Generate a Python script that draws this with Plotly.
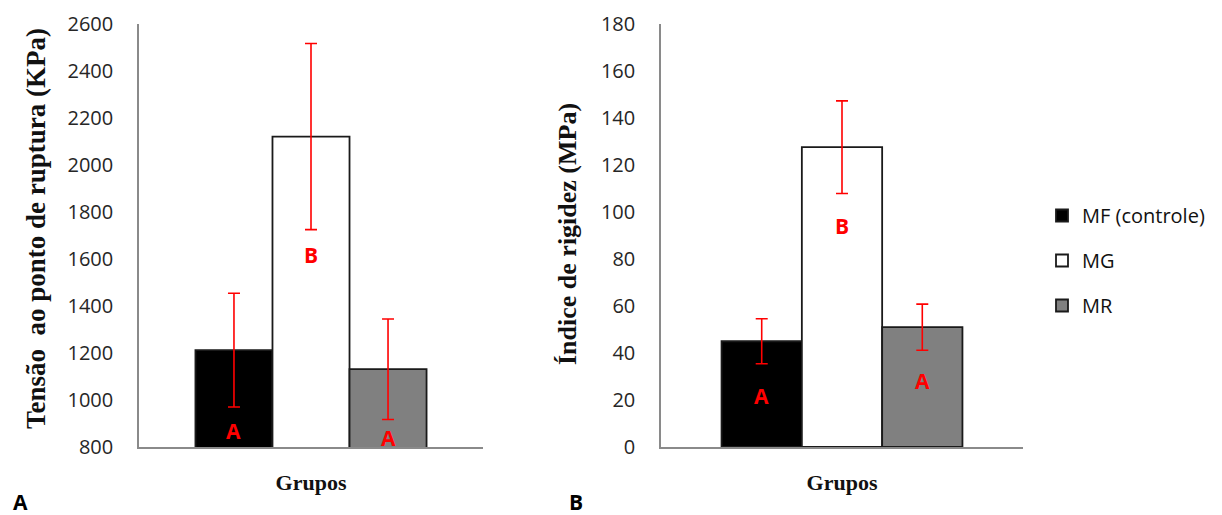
import plotly.graph_objects as go

# Data
groups = ["MF (controle)", "MG", "MR"]
category = ["Grupos"]
tensao = [1212, 2121, 1131]          # KPa
tensao_err = [242, 396, 214]
rigidez = [45.0, 127.6, 51.0]        # MPa
rigidez_err = [9.6, 19.7, 9.8]
letters_tensao = ["A", "B", "A"]
letters_rigidez = ["A", "B", "A"]

# Styling
fills = ["#000000", "#FFFFFF", "#808080"]
W, H = 1222, 515
TOP, BOTTOM = 24, 447
BARGAP = 0.30
TICK_FONT = dict(family="Open Sans", size=20, color="#262626")
SERIF_BOLD = "Liberation Serif"

# Vertical spots (data units) where the significance letters sit
letter_pos_tensao = [868, 1617, 838]
letter_pos_rigidez = [21.5, 94, 28]


def px_x(px):
    return px / W


def px_y(px):
    return (BOTTOM - px) / (BOTTOM - TOP)


fig = go.Figure()

for i, name in enumerate(groups):
    common = dict(
        name=name,
        x=category,
        marker=dict(color=fills[i], line=dict(color="#1a1a1a", width=1.8)),
        offsetgroup=str(i),
        legendgroup=name,
    )
    fig.add_trace(go.Bar(
        y=[tensao[i]],
        error_y=dict(type="data", array=[tensao_err[i]], color="#FF0000",
                     thickness=1.6, width=6),
        xaxis="x", yaxis="y", showlegend=True, **common))
    fig.add_trace(go.Bar(
        y=[rigidez[i]],
        error_y=dict(type="data", array=[rigidez_err[i]], color="#FF0000",
                     thickness=1.6, width=6),
        xaxis="x2", yaxis="y2", showlegend=False, **common))

# Significance letters centred on each bar
bar_w = (1 - BARGAP) / len(groups)
annotations = []
for i in range(len(groups)):
    off = (i - (len(groups) - 1) / 2) * bar_w
    annotations.append(dict(x=off, y=letter_pos_tensao[i], xref="x", yref="y",
                            text=letters_tensao[i], showarrow=False,
                            font=dict(family="Open Sans", size=21, color="#FF0000", weight="bold")))
    annotations.append(dict(x=off, y=letter_pos_rigidez[i], xref="x2", yref="y2",
                            text=letters_rigidez[i], showarrow=False,
                            font=dict(family="Open Sans", size=21, color="#FF0000", weight="bold")))

# Y-axis titles
annotations.append(dict(x=px_x(36), y=px_y(229), xref="paper", yref="paper",
                        text="<b>Tensão  ao ponto de ruptura (KPa)</b>", textangle=-90,
                        showarrow=False, xanchor="center", yanchor="middle",
                        font=dict(family=SERIF_BOLD, size=27, color="#111111")))
annotations.append(dict(x=px_x(567), y=px_y(234), xref="paper", yref="paper",
                        text="<b>Índice de rigidez (MPa)</b>", textangle=-90,
                        showarrow=False, xanchor="center", yanchor="middle",
                        font=dict(family=SERIF_BOLD, size=26, color="#111111")))
# Panel letters
for lab, xp in (("A", 20), ("B", 576)):
    annotations.append(dict(x=px_x(xp), y=px_y(502), xref="paper", yref="paper",
                            text=f"<b>{lab}</b>", showarrow=False,
                            xanchor="center", yanchor="middle",
                            font=dict(family="Open Sans", size=21, color="#000000")))

axis_common = dict(showline=True, linecolor="#8a8a8a", linewidth=1.5,
                   showgrid=False, zeroline=False, automargin=False)
xaxis_common = dict(axis_common, type="category", ticks="", tickfont=dict(
    family=SERIF_BOLD, size=22, color="#111111", weight="bold"), ticklabelstandoff=15)
yaxis_common = dict(axis_common, ticks="", tickfont=TICK_FONT, ticklabelstandoff=20)

fig.update_layout(
    width=W, height=H,
    margin=dict(l=0, r=0, t=TOP, b=H - BOTTOM, autoexpand=False),
    paper_bgcolor="white", plot_bgcolor="white",
    barmode="group", bargap=BARGAP, bargroupgap=0,
    xaxis=dict(xaxis_common, domain=[px_x(139), px_x(483)], anchor="y",
               range=[-0.521, 0.521]),
    yaxis=dict(yaxis_common, domain=[0, 1], anchor="x", range=[800, 2600], dtick=200),
    xaxis2=dict(xaxis_common, domain=[px_x(661), px_x(1023)], anchor="y2",
                range=[-0.526, 0.526]),
    yaxis2=dict(yaxis_common, domain=[0, 1], anchor="x2", range=[0, 180], dtick=20),
    legend=dict(x=px_x(1042), y=px_y(196), xref="paper", yref="paper",
                xanchor="left", yanchor="top", tracegroupgap=16,
                font=dict(family="Open Sans", size=20, color="#111111"),
                bgcolor="rgba(0,0,0,0)"),
    annotations=annotations,
    showlegend=True,
)

fig.write_html("out.html")
